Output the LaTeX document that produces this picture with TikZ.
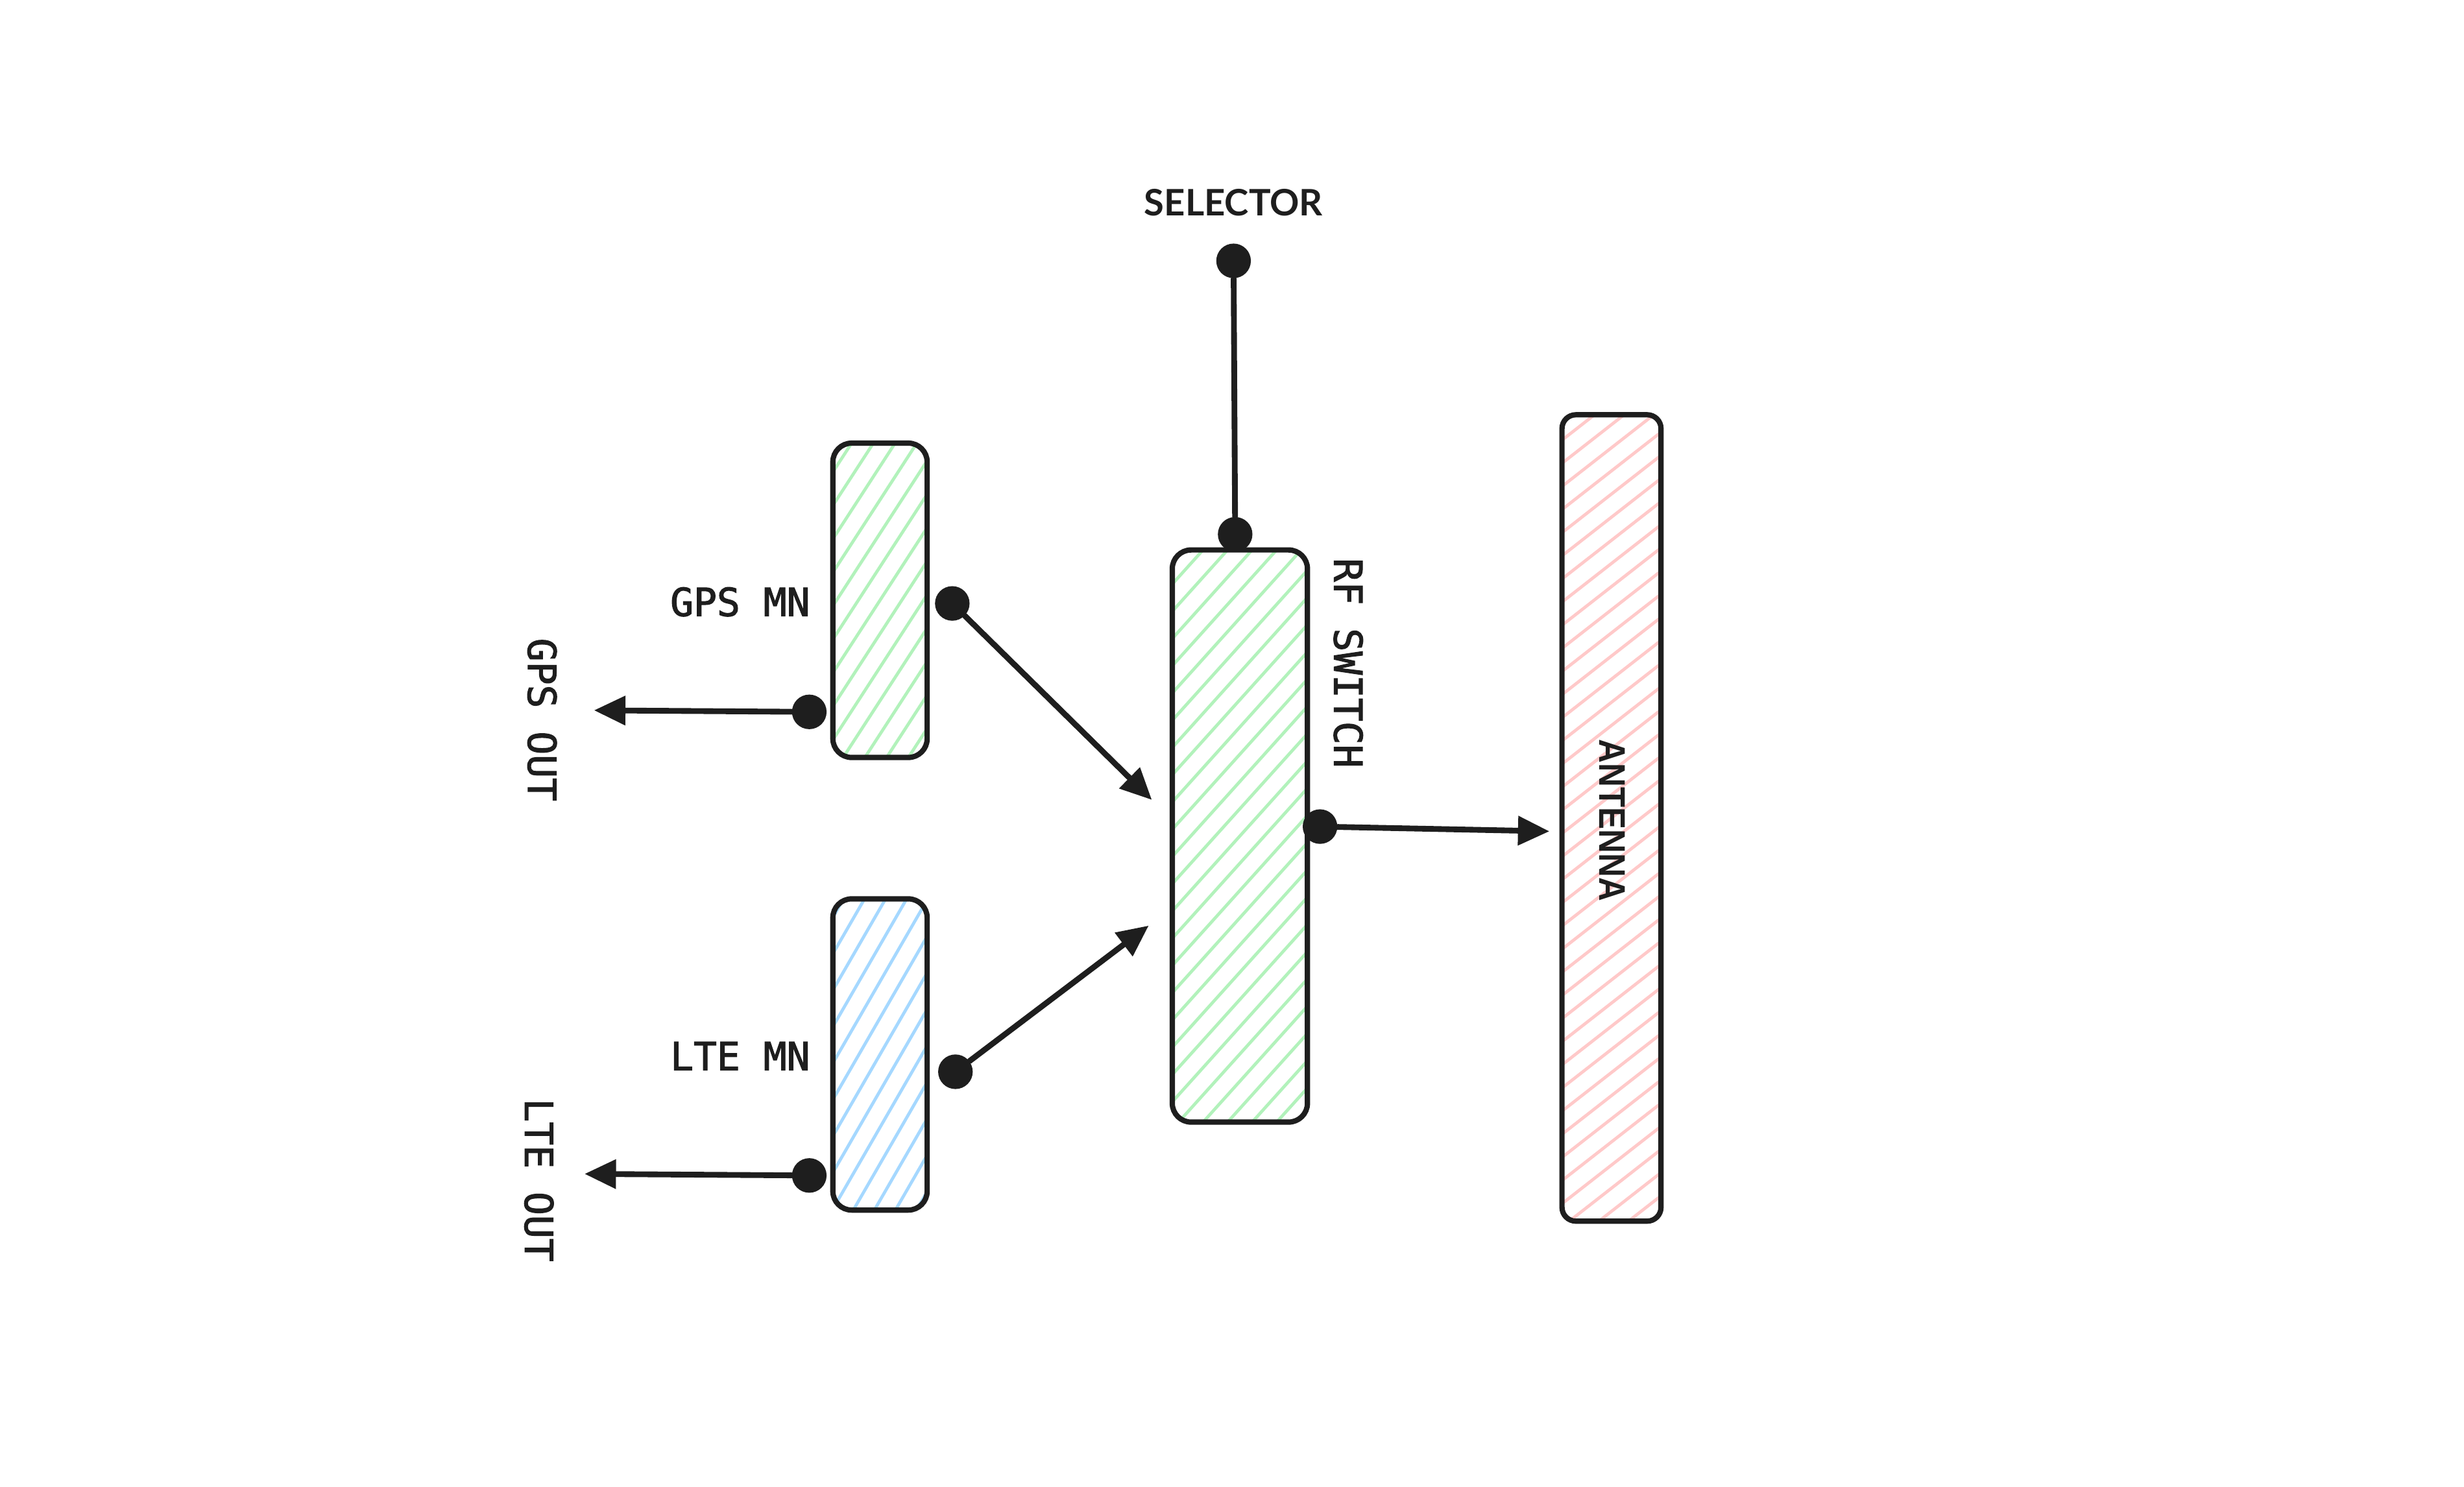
\documentclass[tikz,border=0pt]{standalone}
\usepackage{fontspec}
\usepackage{graphicx}
\usetikzlibrary{arrows.meta}
\newfontfamily\monof[FakeBold=2]{DejaVu Sans Mono}
\newfontfamily\self{Lato}
\newfontfamily\antf{Liberation Sans}
\definecolor{ink}{HTML}{1E1E1E}
\definecolor{hgreen}{HTML}{B2F2BB}
\definecolor{hblue}{HTML}{A5D8FF}
\definecolor{hred}{HTML}{FFC9C9}
\tikzset{
  block/.style={draw=ink, line width=2.4pt, rounded corners=0.3cm, inner sep=0pt},
  hatch/.style 2 args={path picture={%
    \begin{scope}[shift={(path picture bounding box.center)}]
      \foreach \k in {-45,...,45}{\draw[#1, line width=1.4pt]
        ({(-8*cos(#2)-\k*0.29*sin(#2))*1cm},{(-8*sin(#2)+\k*0.29*cos(#2))*1cm}) --
        ({(8*cos(#2)-\k*0.29*sin(#2))*1cm},{(8*sin(#2)+\k*0.29*cos(#2))*1cm});}
    \end{scope}}},
  mono/.style={text=ink, font=\monof\fontsize{17.5}{21}\selectfont, inner sep=0pt},
  dot/.style={circle, fill=ink, minimum size=0.55cm, inner sep=0pt},
  conn/.style={draw=ink, line width=2.6pt, line cap=round},
  arr/.style={conn, -{Triangle[length=0.5cm, width=0.45cm]}}
}
\begin{document}
\begin{tikzpicture}[x=0.025cm, y=-0.025cm]
  \fill[white] (0,0) rectangle (1568,946);
  \useasboundingbox (0,0) rectangle (1568,946);

  % blocks
  \node[block, hatch={hgreen}{57}, minimum width=1.5cm, minimum height=5cm] (gps) at (560,382) {};
  \node[block, hatch={hblue}{60}, minimum width=1.5cm, minimum height=4.95cm] (lte) at (560,671) {};
  \node[block, hatch={hgreen}{48}, minimum width=2.15cm, minimum height=9.1cm] (rf) at (789,532) {};
  \node[block, hatch={hred}{38}, minimum width=1.575cm, minimum height=12.825cm, rounded corners=0.22cm] (ant) at (1025.5,520.5) {};

  % labels
  \node[mono] (gpsl) at (471,383) {GPS MN};
  \node[mono] (ltel) at (471,672) {LTE MN};
  \node[mono, rotate=-90] (gpso) at (345,458) {GPS OUT};
  \node[mono, rotate=-90] (lteo) at (343,751) {LTE OUT};
  \node[mono, rotate=-90] (rfl) at (858,422) {RF SWITCH};
  \node[text=ink, font=\self\bfseries\fontsize{16.5}{20}\selectfont, inner sep=0pt] (sel) at (785,129) {SELECTOR};
  \node[text=ink, rotate=-90, inner sep=0pt] (antl) at (1026,522) {\scalebox{0.89}[1]{\antf\bfseries\fontsize{16.8}{20}\selectfont ANTENNA}};

  % connectors
  \node[dot] (g1) at (515,453) {};
  \coordinate (g1t) at (378,452);
  \draw[arr] (g1) -- (g1t);

  \node[dot] (l1) at (515,748) {};
  \coordinate (l1t) at (372,747);
  \draw[arr] (l1) -- (l1t);

  \node[dot] (g2) at (606,384) {};
  \coordinate (g2t) at (733,509);
  \draw[arr] (g2) -- (g2t);

  \node[dot] (l2) at (608,682) {};
  \coordinate (l2t) at (731,589);
  \draw[arr] (l2) -- (l2t);

  \node[dot] (r1) at (840,526) {};
  \coordinate (r1t) at (986,529);
  \draw[arr] (r1) -- (r1t);

  \node[dot] (s1) at (785,166) {};
  \node[dot] (s2) at (786,340) {};
  \draw[conn] (s1) -- (s2);
\end{tikzpicture}
\end{document}
